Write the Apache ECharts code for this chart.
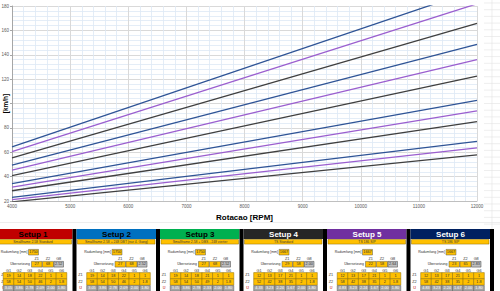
<!DOCTYPE html>
<html>
<head>
<meta charset="utf-8">
<script src="https://cdn.jsdelivr.net/npm/echarts@6/dist/echarts.min.js"></script>
<style>
  html, body { margin: 0; padding: 0; background: #ffffff; }
  #chart { width: 500px; height: 291px; }
</style>
</head>
<body>
<div id="chart"></div>
<script>
// rpm range of the lines (x)
const rpm = [4000, 12000];
// speed [km/h] at 4000 and 12000 rpm, gears 1..4
const setup6Start = [23.0, 34.2, 49.5, 64.5];
const setup6End = [69.0, 102.6, 148.5, 193.5];
const setup5Start = [21.2, 31.3, 45.3, 60.6];
const setup5End = [63.6, 94.0, 136.0, 181.8];
const setup4Start = [19.3, 28.4, 40.8, 55.3];
const setup4End = [57.9, 85.2, 122.4, 165.8];

// table below the chart
const setupNames = ["Setup 1", "Setup 2", "Setup 3", "Setup 4", "Setup 5", "Setup 6"];
const setupColors = ["#c00000", "#0070c0", "#00b050", "#262626", "#7030a0", "#002060"];
const setupTextColors = ["#000000", "#000000", "#000000", "#ffffff", "#ffffff", "#ffffff"];
const subtitles = ["Smallframe 2.58 Standard", "Smallframe 2.58 + 248 DBT (nur 4. Gang)", "Smallframe 2.58 + DBS - 248 vierter", "TS Standard", "TS 186 SIP", "TS 186 SIP"];
const radumfang = ["1750", "1750", "1750", "1667", "1667", "1667"];
const primZ1 = ["27", "27", "27", "29", "22", "23"];
const primZ2 = ["68", "68", "68", "58", "58", "65"];
const primG8 = ["2.52", "2.52", "2.52", "2.00", "2.64", "2.83"];
const gearHeads = ["G1", "G2", "G3", "G4", "G5", "G6"];
const gearZ1 = [
  ["19", "14", "18", "22", "1", "1"],
  ["19", "14", "18", "22", "1", "1"],
  ["19", "14", "18", "21", "1", "1"],
  ["12", "13", "17", "21", "1", "1"],
  ["12", "13", "17", "21", "1", "1"],
  ["12", "13", "17", "21", "1", "1"]
];
const gearZ2 = [
  ["58", "54", "50", "46", "2", "1.8"],
  ["58", "54", "50", "46", "2", "1.8"],
  ["58", "54", "50", "49", "2", "1.8"],
  ["52", "42", "38", "35", "2", "1.8"],
  ["58", "42", "38", "35", "2", "1.8"],
  ["58", "42", "38", "35", "2", "1.8"]
];
const gearRatio = [
  ["3.05", "3.86", "2.78", "2.09", "2.00", "1.80"],
  ["3.05", "3.86", "2.78", "2.09", "2.00", "1.80"],
  ["3.05", "3.86", "2.78", "2.33", "2.00", "1.80"],
  ["4.33", "3.23", "2.24", "1.67", "2.00", "1.80"],
  ["4.83", "3.23", "2.24", "1.67", "2.00", "1.80"],
  ["4.83", "3.23", "2.24", "1.67", "2.00", "1.80"]
];

const FONT = "Liberation Sans";
const lineColors = { s6: "#2f5496", s5: "#9b5fcf", s4: "#404040" };

function lineSeries(starts, ends, color) {
  return starts.map((s, i) => ({
    type: "line",
    data: [[rpm[0], s], [rpm[1], ends[i]]],
    showSymbol: false,
    clip: true,
    silent: true,
    lineStyle: { color: color, width: 1.3 },
    z: 3
  }));
}

// 表格部分
function txt(x, y, text, opt) {
  return {
    type: "text",
    x: x, y: y,
    style: Object.assign({
      text: text, fontFamily: FONT, fontSize: 3.8, fill: "#333333",
      align: "center", verticalAlign: "middle"
    }, opt || {})
  };
}
function box(x, y, w, h, fill, stroke) {
  return {
    type: "rect",
    shape: { x: x, y: y, width: w, height: h },
    style: { fill: fill, stroke: stroke || null, lineWidth: stroke ? 0.5 : 0 }
  };
}

const graphics = [];
// y axis title, drawn over the spot of the 100 label like in the original
graphics.push({
  type: "text",
  x: 5.5, y: 103.5,
  rotation: Math.PI / 2,
  style: {
    text: "[km/h]", fontFamily: FONT, fontSize: 6.5, fontWeight: "bold", fill: "#000000",
    align: "center", verticalAlign: "middle"
  },
  z: 10
});
// spreadsheet cells to the right of the chart
for (let y = 3; y < 229; y += 6.7) {
  graphics.push({ type: "line", shape: { x1: 484, y1: y, x2: 500, y2: y }, style: { stroke: "#e3e3e3", lineWidth: 0.6 } });
}
graphics.push({ type: "line", shape: { x1: 492, y1: 0, x2: 492, y2: 229 }, style: { stroke: "#e3e3e3", lineWidth: 0.6 } });
graphics.push({ type: "line", shape: { x1: 0, y1: 222.5, x2: 500, y2: 222.5 }, style: { stroke: "#e3e3e3", lineWidth: 0.6 } });

const colCenters = [15.5, 26.1, 36.7, 47.3, 57.9, 68.5];
setupNames.forEach((name, i) => {
  const p = -7 + 83.5 * i;
  const rowLabelX = Math.max(p + 4, 3.5);
  graphics.push(box(p, 229, 79.5, 10, setupColors[i]));
  graphics.push(txt(p + 40, 234.5, name, { fontSize: 8, fontWeight: "bold", fill: setupTextColors[i] }));
  graphics.push(box(p + 1, 239.5, 77.5, 4.6, "#ffc000", "#8a6d00"));
  graphics.push(txt(p + 40, 241.9, subtitles[i], { fontSize: 3.4, fill: "#3a3a3a" }));

  graphics.push(txt(p + 34.5, 252.2, "Radumfang [mm]", { align: "right", fontSize: 3.5 }));
  graphics.push(box(p + 35.5, 249.4, 10, 5.6, "#ffc000", "#595959"));
  graphics.push(txt(p + 40.5, 252.2, radumfang[i]));

  graphics.push(txt(p + 43.7, 259.3, "Z1"));
  graphics.push(txt(p + 55, 259.3, "Z2"));
  graphics.push(txt(p + 65.7, 259.3, "G8"));
  graphics.push(txt(p + 37, 264.2, "Übersetzung", { align: "right", fontSize: 3.5 }));
  graphics.push(box(p + 38.5, 261.4, 10.5, 5.7, "#ffc000", "#595959"));
  graphics.push(txt(p + 43.7, 264.2, primZ1[i]));
  graphics.push(box(p + 49.5, 261.4, 11, 5.7, "#ffc000", "#595959"));
  graphics.push(txt(p + 55, 264.2, primZ2[i]));
  graphics.push(box(p + 61, 261.4, 9.5, 5.7, "#bfbfbf", "#404040"));
  graphics.push(txt(p + 65.7, 264.2, primG8[i]));

  graphics.push(txt(rowLabelX, 275.3, "Z1"));
  graphics.push(txt(rowLabelX, 282.1, "Z2"));
  graphics.push(txt(rowLabelX, 288.4, "Ü", { fill: "#c00000" }));
  colCenters.forEach((c, k) => {
    graphics.push(txt(p + c, 271.2, gearHeads[k]));
    graphics.push(box(p + c - 5.3, 272.6, 10.6, 6.2, "#ffc000", "#8a6d00"));
    graphics.push(txt(p + c, 275.7, gearZ1[i][k]));
    graphics.push(box(p + c - 5.3, 278.8, 10.6, 6.4, "#ffc000", "#8a6d00"));
    graphics.push(txt(p + c, 282.1, gearZ2[i][k]));
    graphics.push(box(p + c - 5.3, 285.6, 10.6, 5.6, "#a6a6a6", "#595959"));
    graphics.push(txt(p + c, 288.4, gearRatio[i][k], { fill: "#ffffff" }));
  });
  graphics.push(box(p + 79.5, 229, 4, 62, "#000000"));
});

const chartDom = document.getElementById("chart");
const myChart = echarts.init(chartDom, null, { renderer: "svg" });

const option = {
  animation: false,
  backgroundColor: "#ffffff",
  textStyle: { fontFamily: FONT },
  grid: {
    left: 12, top: 6, width: 465, height: 195,
    containLabel: false, outerBoundsMode: "none"
  },
  xAxis: {
    type: "value",
    min: 4000, max: 12000, interval: 1000,
    name: "Rotacao [RPM]",
    nameLocation: "middle",
    nameGap: 8.5,
    nameTextStyle: { fontSize: 8, fontWeight: "bold", color: "#000000", fontFamily: FONT },
    axisLine: { show: true, lineStyle: { color: "#bfbfbf", width: 1 } },
    axisTick: { show: false },
    axisLabel: {
      fontSize: 4.5, color: "#595959", margin: 3, showMinLabel: true, showMaxLabel: true,
      formatter: (v) => String(v)
    },
    splitLine: { show: true, lineStyle: { color: "#d9d9d9", width: 1 } },
    minorTick: { show: false, splitNumber: 5 },
    minorSplitLine: { show: true, lineStyle: { color: "#dde8f5", width: 0.8 } }
  },
  yAxis: {
    type: "value",
    min: 20, max: 180, interval: 20,
    axisLine: { show: true, lineStyle: { color: "#a6a6a6", width: 1 } },
    axisTick: { show: true, length: 2, lineStyle: { color: "#a6a6a6" } },
    axisLabel: {
      fontSize: 4.5, color: "#595959", margin: 3,
      formatter: (v) => (v === 100 ? "" : String(v))
    },
    splitLine: { show: true, lineStyle: { color: "#d9d9d9", width: 1 } },
    minorTick: { show: false, splitNumber: 5 },
    minorSplitLine: { show: true, lineStyle: { color: "#dde8f5", width: 0.8 } }
  },
  series: []
    .concat(lineSeries(setup6Start, setup6End, lineColors.s6))
    .concat(lineSeries(setup5Start, setup5End, lineColors.s5))
    .concat(lineSeries(setup4Start, setup4End, lineColors.s4)),
  graphic: { elements: graphics }
};

myChart.setOption(option);
</script>
</body>
</html>
